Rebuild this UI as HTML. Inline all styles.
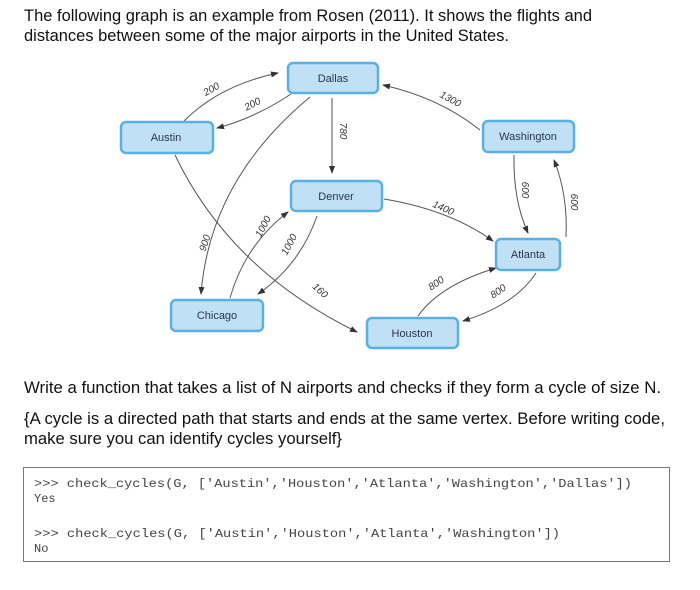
<!DOCTYPE html>
<html><head><meta charset="utf-8"><style>
html,body{margin:0;padding:0;background:#fff;width:700px;height:590px;overflow:hidden}
svg{display:block}
.t{font-family:"Liberation Sans",Arial,sans-serif;font-size:16.5px;fill:#111}
.n{font-family:"Liberation Sans",Arial,sans-serif;font-size:11px;fill:#2a3550;text-anchor:middle}
.l{font-family:"Liberation Sans",Arial,sans-serif;font-size:10px;fill:#333;text-anchor:middle;font-style:italic}
.c{font-family:"Liberation Mono",monospace;font-size:12px;fill:#444}
.e{fill:none;stroke:#555;stroke-width:1}
rect.b{fill:#bfe0f5;stroke:#5ab0e0;stroke-width:2.5}
</style></head><body>
<svg width="700" height="590" viewBox="0 0 700 590">
<defs><marker id="a" markerWidth="8" markerHeight="6" refX="7" refY="3" orient="auto" markerUnits="userSpaceOnUse"><path d="M0,0 L8,3 L0,6 z" fill="#333"/></marker></defs>
<text class="t" x="24" y="21" textLength="568" lengthAdjust="spacingAndGlyphs">The following graph is an example from Rosen (2011). It shows the flights and</text>
<text class="t" x="24" y="41" textLength="485" lengthAdjust="spacingAndGlyphs">distances between some of the major airports in the United States.</text>

<path class="e" marker-end="url(#a)" d="M184,121 Q220,85 278,73"/>
<path class="e" marker-end="url(#a)" d="M291,94 Q255,118 217,128"/>
<path class="e" marker-end="url(#a)" d="M310,97 Q210,180 201,294"/>
<path class="e" marker-end="url(#a)" d="M332,98 L332,173"/>
<path class="e" marker-end="url(#a)" d="M175,155 Q230,270 357,332"/>
<path class="e" marker-end="url(#a)" d="M230,298 Q245,245 288,212"/>
<path class="e" marker-end="url(#a)" d="M317,216 Q300,265 258,294"/>
<path class="e" marker-end="url(#a)" d="M480,130 Q440,98 383,85"/>
<path class="e" marker-end="url(#a)" d="M384,199 Q450,210 493,241"/>
<path class="e" marker-end="url(#a)" d="M514,155 Q513,200 528,233"/>
<path class="e" marker-end="url(#a)" d="M566,237 Q568,195 554,160"/>
<path class="e" marker-end="url(#a)" d="M418,316 Q440,285 496,268"/>
<path class="e" marker-end="url(#a)" d="M536,273 Q515,305 463,321"/>

<text class="l" transform="translate(213,92) rotate(-30)">200</text>
<text class="l" transform="translate(254,107) rotate(-28)">200</text>
<text class="l" transform="translate(208,244) rotate(-72)">900</text>
<text class="l" transform="translate(340,131) rotate(90)">780</text>
<text class="l" transform="translate(318,293) rotate(42)">160</text>
<text class="l" transform="translate(266,228) rotate(-62)">1000</text>
<text class="l" transform="translate(292,246) rotate(-62)">1000</text>
<text class="l" transform="translate(449,102) rotate(28)">1300</text>
<text class="l" transform="translate(442,211) rotate(24)">1400</text>
<text class="l" transform="translate(522,190) rotate(90)">600</text>
<text class="l" transform="translate(571,202) rotate(90)">600</text>
<text class="l" transform="translate(438,286) rotate(-35)">800</text>
<text class="l" transform="translate(500,294) rotate(-35)">800</text>

<rect class="b" x="288" y="63" width="90" height="30" rx="5"/><text class="n" x="333" y="82">Dallas</text>
<rect class="b" x="121" y="122" width="92" height="31" rx="5"/><text class="n" x="166" y="141">Austin</text>
<rect class="b" x="291" y="181" width="91" height="30" rx="5"/><text class="n" x="336" y="200">Denver</text>
<rect class="b" x="171" y="300" width="92" height="31" rx="5"/><text class="n" x="217" y="319">Chicago</text>
<rect class="b" x="367" y="318" width="91" height="30" rx="5"/><text class="n" x="412" y="337">Houston</text>
<rect class="b" x="483" y="121" width="91" height="31" rx="5"/><text class="n" x="528" y="140">Washington</text>
<rect class="b" x="496" y="239" width="64" height="31" rx="5"/><text class="n" x="528" y="258">Atlanta</text>

<text class="t" x="24" y="393" textLength="637" lengthAdjust="spacingAndGlyphs">Write a function that takes a list of N airports and checks if they form a cycle of size N.</text>
<text class="t" x="24" y="424" textLength="641" lengthAdjust="spacingAndGlyphs">{A cycle is a directed path that starts and ends at the same vertex. Before writing code,</text>
<text class="t" x="24" y="444" textLength="318" lengthAdjust="spacingAndGlyphs">make sure you can identify cycles yourself}</text>

<rect x="23.5" y="467.5" width="646" height="94" fill="#fff" stroke="#777" stroke-width="1"/>
<text class="c" x="34" y="487" textLength="598" lengthAdjust="spacingAndGlyphs">&gt;&gt;&gt; check_cycles(G, ['Austin','Houston','Atlanta','Washington','Dallas'])</text>
<text class="c" x="34" y="502">Yes</text>
<text class="c" x="34" y="537" textLength="526" lengthAdjust="spacingAndGlyphs">&gt;&gt;&gt; check_cycles(G, ['Austin','Houston','Atlanta','Washington'])</text>
<text class="c" x="34" y="552">No</text>
</svg>
</body></html>
